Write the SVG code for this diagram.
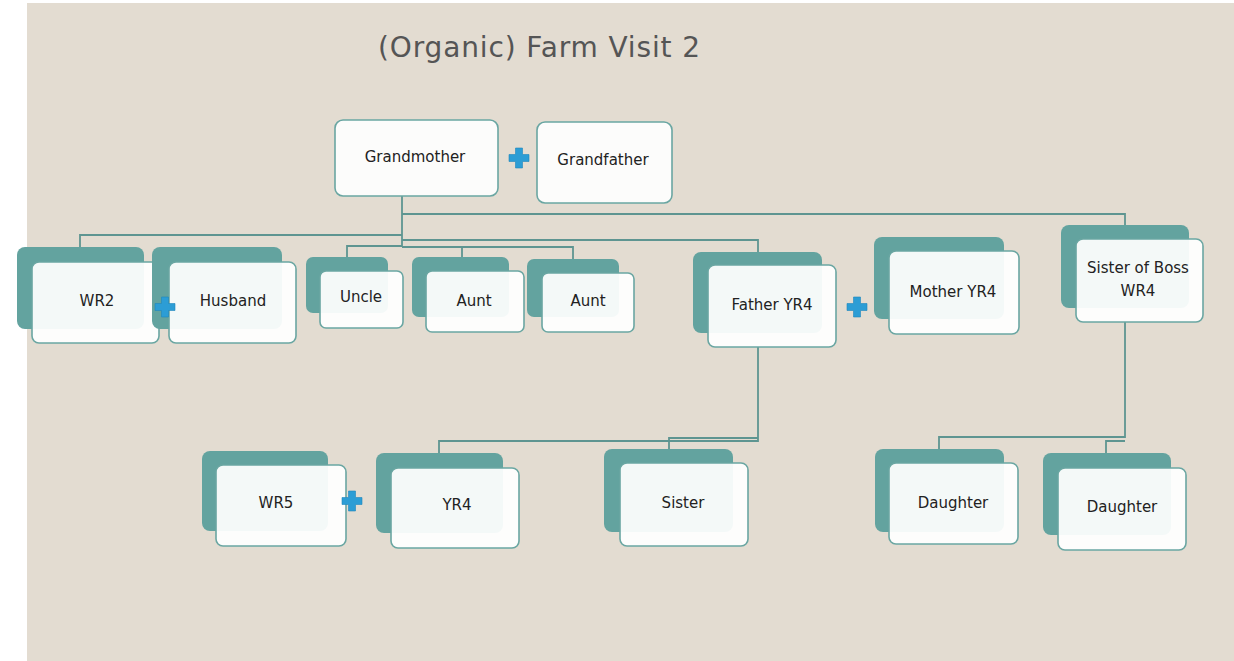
<svg xmlns="http://www.w3.org/2000/svg" width="1234" height="661" viewBox="0 0 1234 661">
  <defs>
    <style>
      .bg { fill: #E3DCD1; }
      .back { fill: #63A39F; }
      .front { fill: #FFFFFF; fill-opacity: 0.93; stroke: #6AA6A2; stroke-width: 1.6; }
      .solo { fill: #FCFCFB; stroke: #6AA6A2; stroke-width: 1.6; }
      .lbl { font-family: "DejaVu Sans", "Liberation Sans", sans-serif; font-size: 15px; fill: #222; text-anchor: middle; }
      .title { font-family: "DejaVu Sans", "Liberation Sans", sans-serif; font-size: 28px; fill: #555; }
      .conn { fill: none; stroke: #5E9591; stroke-width: 1.8; }
      .plus { fill: #2C9DD5; stroke: #1F86BD; stroke-width: 0.6; stroke-linejoin: round; }
    </style>
    <path id="plusShape" d="M-3.5,-10 h7 v6.5 h6.5 v7 h-6.5 v6.5 h-7 v-6.5 h-6.5 v-7 h6.5 z"/>
  </defs>

  <!-- canvas -->
  <rect x="0" y="0" width="1234" height="661" fill="#FFFFFF"/>
  <rect class="bg" x="27" y="3" width="1207" height="658"/>

  <text class="title" x="378" y="57" textLength="322" lengthAdjust="spacing">(Organic) Farm Visit 2</text>

  <!-- family lines -->
  <g id="connectors">
    <path class="conn" d="M402,196 V247"/>
    <path class="conn" d="M402,214 H1125 V225"/>
    <path class="conn" d="M402,235 H80 V247"/>
    <path class="conn" d="M402,240 H758 V252"/>
    <path class="conn" d="M402,246 H347 V257"/>
    <path class="conn" d="M402,247 H573 V259"/>
    <path class="conn" d="M462,247 V257"/>
    <path class="conn" d="M758,347 V441 H439 V453"/>
    <path class="conn" d="M758,438 H669 V449"/>
    <path class="conn" d="M1125,322 V437 H939 V449"/>
    <path class="conn" d="M1125,441 H1106 V453"/>
  </g>

  <!-- top generation -->
  <g id="grandmother">
    <rect class="solo" x="335" y="120" width="163" height="76" rx="8"/>
    <text class="lbl" x="415" y="162">Grandmother</text>
  </g>
  <g id="grandfather">
    <rect class="solo" x="537" y="122" width="135" height="81" rx="8"/>
    <text class="lbl" x="603" y="165">Grandfather</text>
  </g>
  <use href="#plusShape" class="plus" x="519" y="158"/>

  <!-- second generation -->
  <g id="wr2">
    <rect class="back" x="17" y="247" width="127" height="82" rx="8"/>
    <rect class="front" x="32" y="262" width="127" height="81" rx="7"/>
    <text class="lbl" x="97" y="306">WR2</text>
  </g>
  <g id="husband">
    <rect class="back" x="152" y="247" width="130" height="82" rx="8"/>
    <rect class="front" x="169" y="262" width="127" height="81" rx="7"/>
    <text class="lbl" x="233" y="306">Husband</text>
  </g>
  <use href="#plusShape" class="plus" x="165" y="307"/>
  <g id="uncle">
    <rect class="back" x="306" y="257" width="82" height="56" rx="7"/>
    <rect class="front" x="320" y="271" width="83" height="57" rx="6"/>
    <text class="lbl" x="361" y="302">Uncle</text>
  </g>
  <g id="aunt1">
    <rect class="back" x="412" y="257" width="97" height="60" rx="7"/>
    <rect class="front" x="426" y="271" width="98" height="61" rx="6"/>
    <text class="lbl" x="474" y="306">Aunt</text>
  </g>
  <g id="aunt2">
    <rect class="back" x="527" y="259" width="92" height="58" rx="7"/>
    <rect class="front" x="542" y="273" width="92" height="59" rx="6"/>
    <text class="lbl" x="588" y="306">Aunt</text>
  </g>
  <g id="father-yr4">
    <rect class="back" x="693" y="252" width="129" height="81" rx="8"/>
    <rect class="front" x="708" y="265" width="128" height="82" rx="7"/>
    <text class="lbl" x="772" y="310">Father YR4</text>
  </g>
  <use href="#plusShape" class="plus" x="857" y="307"/>
  <g id="mother-yr4">
    <rect class="back" x="874" y="237" width="130" height="82" rx="8"/>
    <rect class="front" x="889" y="251" width="130" height="83" rx="7"/>
    <text class="lbl" x="953" y="297">Mother YR4</text>
  </g>
  <g id="sister-of-boss">
    <rect class="back" x="1061" y="225" width="128" height="83" rx="8"/>
    <rect class="front" x="1076" y="239" width="127" height="83" rx="7"/>
    <text class="lbl" x="1138" y="273">Sister of Boss</text>
    <text class="lbl" x="1138" y="296">WR4</text>
  </g>

  <!-- third generation -->
  <g id="wr5">
    <rect class="back" x="202" y="451" width="126" height="80" rx="8"/>
    <rect class="front" x="216" y="465" width="130" height="81" rx="7"/>
    <text class="lbl" x="276" y="508">WR5</text>
  </g>
  <use href="#plusShape" class="plus" x="352" y="501"/>
  <g id="yr4">
    <rect class="back" x="376" y="453" width="127" height="80" rx="8"/>
    <rect class="front" x="391" y="468" width="128" height="80" rx="7"/>
    <text class="lbl" x="457" y="510">YR4</text>
  </g>
  <g id="sister">
    <rect class="back" x="604" y="449" width="129" height="83" rx="8"/>
    <rect class="front" x="620" y="463" width="128" height="83" rx="7"/>
    <text class="lbl" x="683" y="508">Sister</text>
  </g>
  <g id="daughter1">
    <rect class="back" x="875" y="449" width="129" height="83" rx="8"/>
    <rect class="front" x="889" y="463" width="129" height="81" rx="7"/>
    <text class="lbl" x="953" y="508">Daughter</text>
  </g>
  <g id="daughter2">
    <rect class="back" x="1043" y="453" width="128" height="82" rx="8"/>
    <rect class="front" x="1058" y="468" width="128" height="82" rx="7"/>
    <text class="lbl" x="1122" y="512">Daughter</text>
  </g>
</svg>
